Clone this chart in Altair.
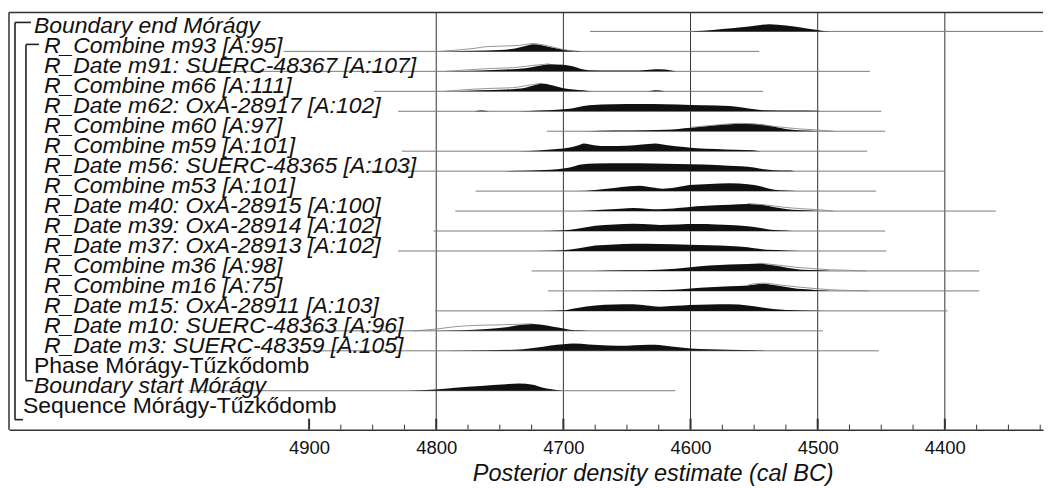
import altair as alt
import pandas as pd

# ---------------- data ----------------
row_labels = [
    "Boundary end Mórágy",
    "R_Combine m93 [A:95]",
    "R_Date m91: SUERC-48367 [A:107]",
    "R_Combine m66 [A:111]",
    "R_Date m62: OxA-28917 [A:102]",
    "R_Combine m60 [A:97]",
    "R_Combine m59 [A:101]",
    "R_Date m56: SUERC-48365 [A:103]",
    "R_Combine m53 [A:101]",
    "R_Date m40: OxA-28915 [A:100]",
    "R_Date m39: OxA-28914 [A:102]",
    "R_Date m37: OxA-28913 [A:102]",
    "R_Combine m36 [A:98]",
    "R_Combine m16 [A:75]",
    "R_Date m15: OxA-28911 [A:103]",
    "R_Date m10: SUERC-48363 [A:96]",
    "R_Date m3: SUERC-48359 [A:105]",
    "Phase Mórágy-Tűzkődomb",
    "Boundary start Mórágy",
    "Sequence Mórágy-Tűzkődomb",
]
row_kind = ["bound"] + ["r"] * 16 + ["phase", "bound", "seq"]

# horizontal range line of each row (cal BC), None = no line
range_start = [4679, 4920, 4993, 4849, 4830, 4713, 4827, 4854, 4769, 4785,
               4802, 4830, 4725, 4712, 4801, 4907, 4907, None, 4995, None]
range_end = [4317, 4546, 4459, 4543, 4450, 4447, 4461, 4400, 4454, 4360,
             4447, 4446, 4373, 4373, 4398, 4496, 4452, None, 4612, None]

# posterior densities: (year BC, relative height)
post_end = [(4600, 0), (4590, 0.5), (4575, 2), (4560, 3.5), (4548, 5), (4538, 6), (4525, 5),
            (4512, 3), (4503, 1.5), (4497, 0.6), (4490, 0)]
post_m93 = [(4790, 0), (4770, 0.6), (4750, 1.2), (4738, 2.5), (4730, 4.5), (4724, 6), (4716, 5),
            (4708, 3), (4700, 1.5), (4692, 0.5), (4686, 0)]
post_m91 = [(4791, 0), (4765, 0.7), (4745, 1.5), (4730, 2.5), (4720, 4.5), (4711, 6), (4700, 5.5),
            (4692, 4), (4686, 2), (4680, 1), (4660, 0.7), (4640, 0.8), (4630, 1.6), (4625, 1.8),
            (4615, 0.8), (4611, 0)]
post_m66 = [(4785, 0), (4765, 0.8), (4745, 1.5), (4730, 3), (4723, 5), (4717, 6.5), (4709, 5),
            (4700, 2.5), (4692, 1.5), (4685, 0.8), (4678, 0), (4633, 0), (4628, 0.8), (4620, 0)]
post_m62 = [(4770, 0), (4765, 0.6), (4758, 0), (4735, 0), (4720, 0.6), (4705, 1.2), (4695, 2),
            (4688, 3.5), (4680, 5), (4660, 5.8), (4640, 6), (4620, 5.8), (4600, 5.2), (4580, 4.8),
            (4569, 4.3), (4558, 3), (4548, 1.5), (4540, 0.8), (4520, 0.6), (4500, 0.5), (4498, 0)]
post_m60 = [(4681, 0), (4660, 0.5), (4635, 0.8), (4619, 1.2), (4600, 3), (4580, 5), (4565, 6),
            (4550, 6.2), (4540, 5), (4530, 3), (4520, 1.2), (4510, 0.5), (4500, 0)]
post_m59 = [(4735, 0), (4720, 0.6), (4705, 1.8), (4695, 3), (4688, 5), (4684, 6.5), (4676, 5),
            (4665, 4.3), (4650, 4.5), (4638, 5.5), (4628, 6.5), (4618, 5), (4605, 3.5), (4595, 2.5),
            (4580, 1.8), (4565, 1.2), (4551, 0.8), (4545, 0)]
post_m56 = [(4745, 0), (4725, 0.6), (4705, 1.5), (4695, 3), (4686, 5.5), (4675, 6.3), (4650, 6.5),
            (4630, 6.3), (4610, 6), (4590, 5.5), (4570, 4.5), (4560, 4), (4550, 3), (4542, 1.5),
            (4535, 0.8), (4522, 0.5), (4518, 0)]
post_m53 = [(4689, 0), (4675, 1), (4660, 2.5), (4648, 4), (4640, 4.5), (4630, 3), (4622, 2),
            (4612, 3), (4601, 5), (4585, 6), (4569, 6.5), (4555, 5.8), (4545, 4), (4538, 2),
            (4530, 0.8), (4520, 0.4), (4515, 0)]
post_m40 = [(4687, 0), (4670, 1.2), (4655, 2), (4645, 2.5), (4635, 2), (4624, 1.5), (4610, 2.5),
            (4595, 4), (4580, 4.8), (4569, 5.3), (4555, 6), (4545, 5.5), (4535, 3.5), (4525, 1.8),
            (4515, 0.8), (4505, 0.4), (4500, 0)]
post_m39 = [(4718, 0), (4700, 0.6), (4689, 2), (4675, 4.5), (4660, 5.5), (4645, 6), (4630, 5.5),
            (4624, 5), (4610, 5.5), (4595, 5.8), (4580, 5.5), (4569, 5), (4555, 4), (4545, 2.5),
            (4537, 1), (4525, 0.4), (4520, 0)]
post_m37 = [(4721, 0), (4700, 0.6), (4689, 2), (4675, 4.5), (4660, 5.5), (4645, 6), (4625, 5.8),
            (4601, 5.2), (4585, 4.8), (4569, 4.2), (4555, 3.2), (4548, 2), (4540, 1), (4525, 0.5),
            (4515, 0)]
post_m36 = [(4677, 0), (4650, 0.5), (4625, 1), (4612, 1.8), (4600, 3), (4585, 4.5), (4569, 5.3),
            (4555, 5.8), (4546, 6.2), (4537, 5), (4528, 3.5), (4520, 2), (4512, 1), (4500, 0.5),
            (4490, 0)]
post_m16 = [(4679, 0), (4640, 0.4), (4614, 1), (4600, 2), (4585, 3), (4569, 3.8), (4555, 4.5),
            (4543, 6), (4532, 4.5), (4520, 2.5), (4512, 1.5), (4500, 0.6), (4490, 0)]
post_m15 = [(4718, 0), (4700, 0.6), (4689, 2.5), (4675, 4.5), (4660, 5.3), (4645, 5.5), (4635, 4.5),
            (4624, 3.5), (4612, 4.2), (4601, 5), (4585, 5.3), (4569, 5.5), (4555, 4.5), (4545, 3),
            (4535, 1.5), (4525, 0.7), (4510, 0.4), (4493, 0)]
post_m10 = [(4800, 0), (4780, 0.5), (4760, 1.5), (4745, 3), (4733, 5), (4724, 5.7), (4713, 4.5),
            (4703, 2.5), (4695, 1), (4687, 0.4), (4680, 0)]
post_m3 = [(4791, 0), (4760, 0.5), (4735, 1), (4722, 2.5), (4710, 4.5), (4700, 5.5), (4692, 6),
           (4680, 5.3), (4665, 4.5), (4650, 4.3), (4638, 4.8), (4628, 5), (4615, 3.5), (4600, 2),
           (4585, 1.2), (4570, 0.8), (4550, 0.5), (4536, 0)]
post_bstart = [(4822, 0), (4801, 1), (4785, 2.5), (4765, 4), (4745, 5.5), (4735, 6), (4724, 5),
               (4716, 2.5), (4708, 1), (4700, 0)]

# unmodelled likelihood outlines: (year BC, relative height)
like_m93 = [(4797, 0), (4785, 1), (4770, 2.5), (4760, 4), (4745, 4.5), (4735, 5), (4724, 6.5),
            (4712, 4.5), (4700, 1.5), (4690, 0)]
like_m91 = [(4793, 0), (4775, 1.2), (4755, 2.5), (4740, 3), (4725, 4.8), (4711, 6.3)]
like_m66 = [(4793, 0), (4775, 1.5), (4755, 2.5), (4740, 3), (4725, 5.5), (4717, 6.8)]
like_m60 = [(4600, 3.2), (4580, 5.2), (4560, 6.6), (4545, 5.5), (4530, 3.5), (4515, 2),
            (4500, 1), (4488, 0)]
like_m40 = [(4555, 6.3), (4540, 5), (4525, 3), (4510, 1.8), (4495, 0.8), (4488, 0)]
like_m36 = [(4546, 6.5), (4532, 5), (4518, 3.2), (4505, 2), (4490, 1), (4475, 0.5), (4462, 0)]
like_m16 = [(4555, 5), (4543, 6.5), (4530, 5), (4515, 3.2), (4500, 1.8), (4490, 1), (4475, 0.4),
            (4460, 0)]
like_m10 = [(4818, 0), (4800, 1.5), (4785, 3.5), (4770, 4.5), (4750, 5), (4735, 5.5), (4724, 5.9)]

post_rows = [post_end, post_m93, post_m91, post_m66, post_m62, post_m60, post_m59, post_m56,
             post_m53, post_m40, post_m39, post_m37, post_m36, post_m16, post_m15, post_m10,
             post_m3, None, post_bstart, None]
like_rows = {1: like_m93, 2: like_m91, 3: like_m66, 5: like_m60, 9: like_m40, 12: like_m36,
             13: like_m16, 15: like_m10}

major_ticks = [4900, 4800, 4700, 4600, 4500, 4400]
grid_years = [4800, 4700, 4600, 4500, 4400]
minor_ticks = [4875, 4850, 4825, 4775, 4750, 4725, 4675, 4650, 4625, 4575, 4550, 4525,
               4475, 4450, 4425, 4375, 4350, 4325]

# ---------------- styling / geometry ----------------
W, H = 1036, 418
X_DOMAIN = [4322.8, 5136]
Y_DOMAIN = [-0.95, 19.95]
HSCALE = 0.06  # relative density height -> row units
FONT = "Liberation Sans"
indent = {"bound": 25, "r": 35, "phase": 25, "seq": 14}
italic_kind = {"bound": True, "r": True, "phase": False, "seq": False}

xs = alt.Scale(domain=X_DOMAIN, reverse=True, nice=False, zero=False)
ys = alt.Scale(domain=Y_DOMAIN, reverse=True, nice=False, zero=False)

# tables built from the arrays
dens = []
for i, pts in enumerate(post_rows):
    if pts is None:
        continue
    for yr, h in pts:
        dens.append({"row": i, "year": yr, "top": i - h * HSCALE, "base": i})
dens_df = pd.DataFrame(dens)

like = []
for i, pts in like_rows.items():
    for yr, h in pts:
        like.append({"row": i, "year": yr, "top": i - h * HSCALE})
like_df = pd.DataFrame(like)

rng_df = pd.DataFrame([
    {"row": i, "x1": min(s, X_DOMAIN[1]), "x2": max(e, X_DOMAIN[0])}
    for i, (s, e) in enumerate(zip(range_start, range_end)) if s is not None
])

lab_df = pd.DataFrame({"row": list(range(len(row_labels))), "label": row_labels, "kind": row_kind})

one = pd.DataFrame({"a": [0]})

xenc = alt.X("year:Q", scale=xs, axis=alt.Axis(
    values=major_ticks, format="d", ticks=False, grid=False, domain=True,
    domainColor="#333", domainWidth=1.5, labelFont=FONT, labelFontSize=18.5,
    labelColor="#111", labelPadding=9, labelFlush=False,
    title="Posterior density estimate (cal BC)", titleFont=FONT, titleFontSize=23.5,
    titleFontStyle="italic", titleFontWeight="normal", titleColor="#111",
    titleX=645, titleY=51, titleBaseline="alphabetic", titleAnchor="middle"))

layers = []

grid = alt.Chart(pd.DataFrame({"year": grid_years})).mark_rule(
    color="#333", strokeWidth=1).encode(x=xenc, y=alt.value(0), y2=alt.value(H))
layers.append(grid)

ranges = alt.Chart(rng_df).mark_rule(color="#7a7a7a", strokeWidth=1, clip=True).encode(
    x=alt.X("x1:Q", scale=xs), x2="x2:Q", y=alt.Y("row:Q", scale=ys, axis=None))
layers.append(ranges)

area = alt.Chart(dens_df).mark_area(color="#111", opacity=1, clip=True,
                                    interpolate="monotone").encode(
    x=alt.X("year:Q", scale=xs), y=alt.Y("top:Q", scale=ys, axis=None), y2="base:Q",
    detail="row:N")
layers.append(area)

outline = alt.Chart(like_df).mark_line(color="#8a8a8a", strokeWidth=0.9, clip=True,
                                       interpolate="monotone").encode(
    x=alt.X("year:Q", scale=xs), y=alt.Y("top:Q", scale=ys, axis=None), detail="row:N")
layers.append(outline)

major = alt.Chart(pd.DataFrame({"year": major_ticks})).mark_rule(
    color="#333", strokeWidth=2).encode(x=alt.X("year:Q", scale=xs), y=alt.value(H), y2=alt.value(H - 11))
minor = alt.Chart(pd.DataFrame({"year": minor_ticks})).mark_rule(
    color="#333", strokeWidth=1).encode(x=alt.X("year:Q", scale=xs), y=alt.value(H), y2=alt.value(H - 5))
layers += [major, minor]

frame_top = alt.Chart(one).mark_rule(color="#333", strokeWidth=1.5).encode(
    x=alt.value(0), x2=alt.value(W), y=alt.value(0))
frame_left = alt.Chart(one).mark_rule(color="#333", strokeWidth=1.5).encode(
    x=alt.value(0), y=alt.value(0), y2=alt.value(H))
layers += [frame_top, frame_left]

# structure brackets (Sequence and Phase)
seq_top, seq_bot = 0 - 0.45, 19 + 0.45
ph_top, ph_bot = 1 - 0.35, 17 + 0.5
br = pd.DataFrame([
    {"xa": 6, "xb": 6, "ya": seq_top, "yb": seq_bot},
    {"xa": 6, "xb": 22, "ya": seq_top, "yb": seq_top},
    {"xa": 6, "xb": 14, "ya": seq_bot, "yb": seq_bot},
    {"xa": 17, "xb": 17, "ya": ph_top, "yb": ph_bot},
    {"xa": 17, "xb": 30, "ya": ph_top, "yb": ph_top},
    {"xa": 17, "xb": 24, "ya": ph_bot, "yb": ph_bot},
])
for _, r in br.iterrows():
    layers.append(alt.Chart(one).mark_rule(color="#222", strokeWidth=1.6).encode(
        x=alt.value(r.xa), x2=alt.value(r.xb),
        y=alt.Y("ya:Q", scale=ys, axis=None), y2="yb:Q").transform_calculate(
        ya=str(r.ya), yb=str(r.yb)))

for kind in ["bound", "r", "phase", "seq"]:
    layers.append(alt.Chart(lab_df).transform_filter(alt.datum.kind == kind).mark_text(
        align="left", baseline="alphabetic", dy=2, font=FONT, fontSize=23,
        fontStyle="italic" if italic_kind[kind] else "normal", color="#111").encode(
        x=alt.value(indent[kind]), y=alt.Y("row:Q", scale=ys, axis=None), text="label:N"))

chart = alt.layer(*layers).properties(
    width=W, height=H, padding={"left": 0, "top": 3, "right": 0, "bottom": 0}
).configure_view(stroke=None)

chart.save("out.html", embed_options={"renderer": "svg", "actions": False})
